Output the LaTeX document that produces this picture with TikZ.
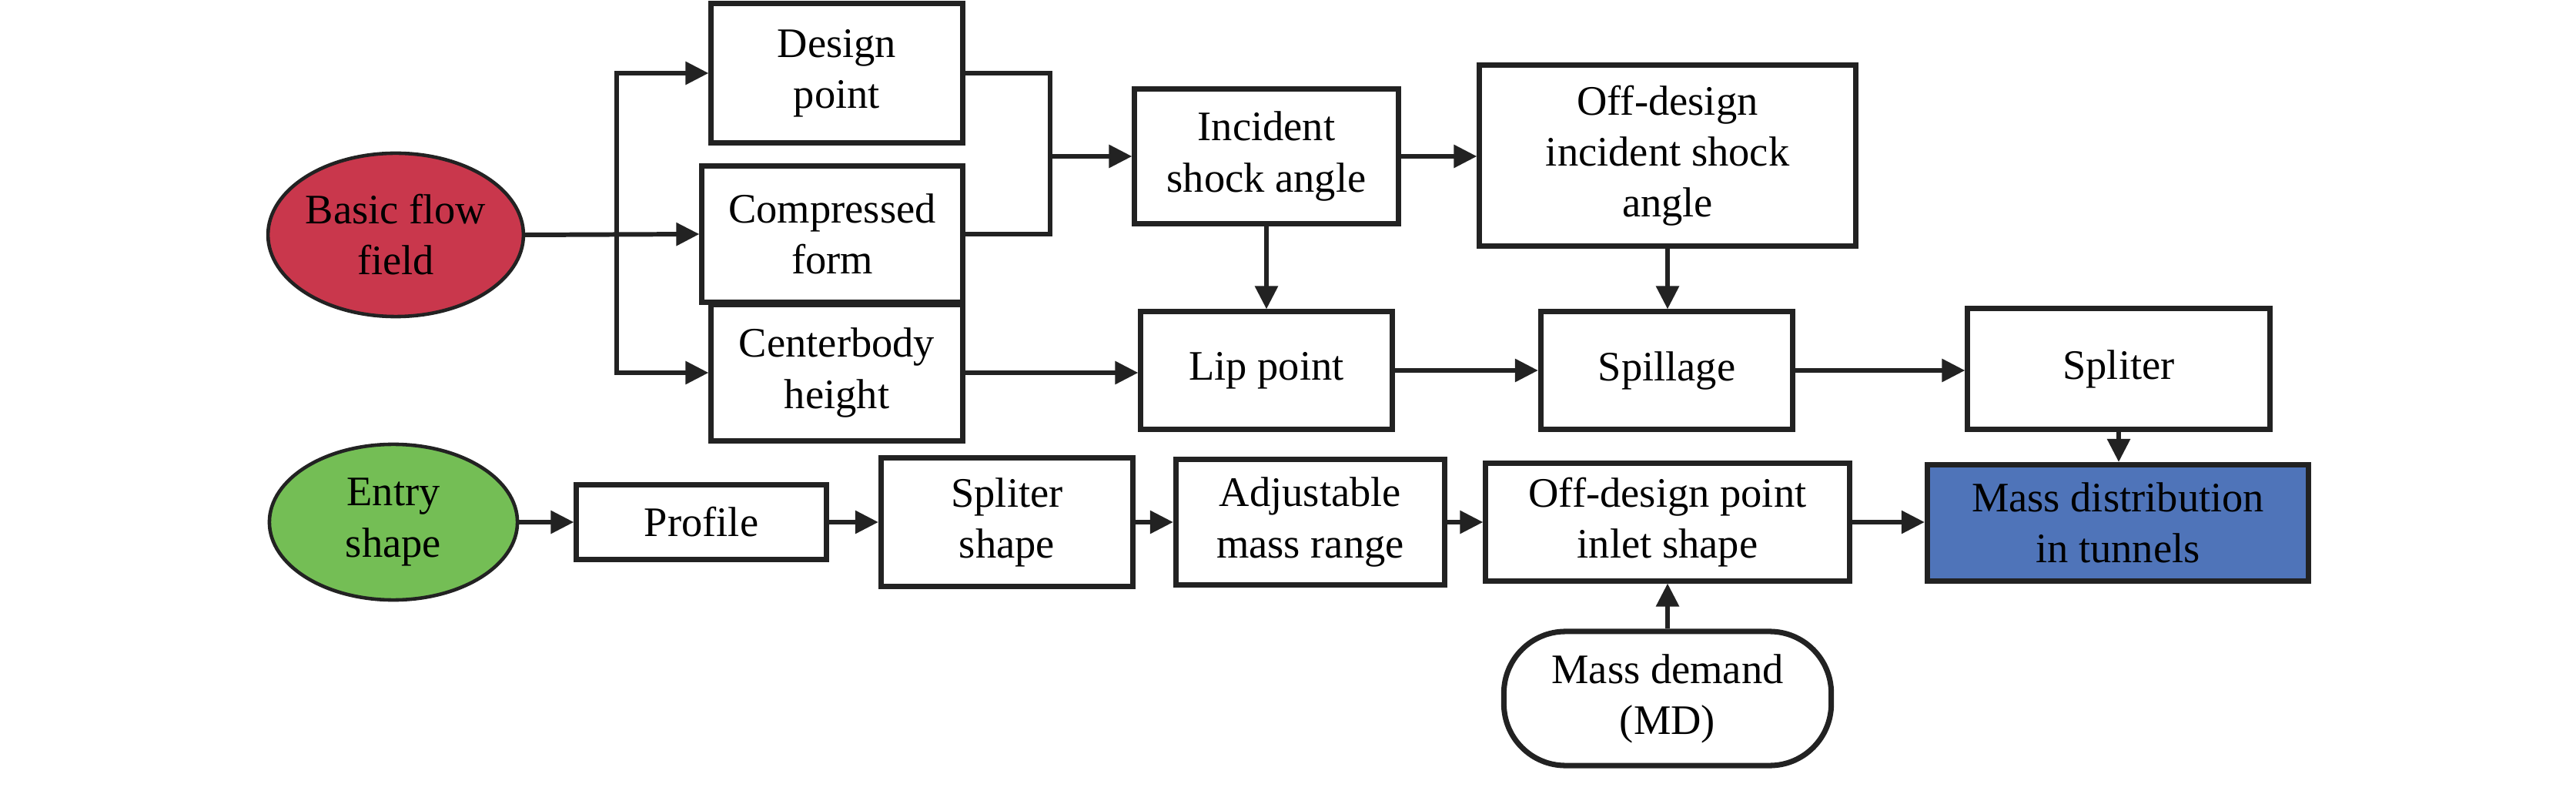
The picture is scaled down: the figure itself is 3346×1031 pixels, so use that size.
\documentclass[tikz,border=0pt]{standalone}
\usepackage{fontspec}
\setmainfont{Liberation Serif}
\newfontfamily\tnr{Liberation Serif}
\usetikzlibrary{arrows.meta,shapes.geometric,calc}
\definecolor{redfill}{HTML}{C9374C}
\definecolor{greenfill}{HTML}{74BE55}
\definecolor{bluefill}{HTML}{4F74B9}
\definecolor{edge}{HTML}{222222}
\tikzset{
  txt/.style={align=center, inner sep=0pt, font=\tnr\fontsize{15.5}{18.8}\selectfont},
  box/.style={txt, draw=edge, line width=2pt, fill=white, rectangle},
  oval/.style={txt, draw=edge, line width=1.3pt, ellipse},
  term/.style={txt, draw=edge, line width=2pt, rectangle, rounded corners=0.8cm},
  arr/.style={draw=edge, line width=1.7pt, -{Triangle[length=0.3cm,width=0.29cm]}},
  ln/.style={draw=edge, line width=1.7pt},
}
\begin{document}
\begin{tikzpicture}[x=0.01cm,y=-0.01cm]
\useasboundingbox (0,0) rectangle (3346,1031);
% nodes
\node[oval, fill=redfill, minimum width=3.22cm, minimum height=2.12cm] (bff) at (514,305) {Basic flow\\field};
\node[oval, fill=greenfill, minimum width=3.22cm, minimum height=2.02cm] (ent) at (511,678) {Entry\\shape};
\node[box, minimum width=3.26cm, minimum height=1.81cm] (dp) at (1087,95) {Design\\point};
\node[box, minimum width=3.38cm, minimum height=1.77cm] (cf) at (1081,304) {Compressed\\form};
\node[box, minimum width=3.26cm, minimum height=1.76cm] (cb) at (1087,484) {Centerbody\\height};
\node[box, minimum width=3.42cm, minimum height=1.74cm] (isa) at (1645,203) {Incident\\shock angle};
\node[box, minimum width=4.88cm, minimum height=2.35cm] (oda) at (2166,202) {Off-design\\incident shock\\angle};
\node[box, minimum width=3.26cm, minimum height=1.52cm] (lip) at (1645,481) {Lip point};
\node[box, minimum width=3.27cm, minimum height=1.52cm] (spl) at (2165,481) {Spillage};
\node[box, minimum width=3.92cm, minimum height=1.57cm] (spt) at (2752,479) {Spliter};
\node[box, minimum width=3.24cm, minimum height=0.97cm] (pro) at (911,678) {Profile};
\node[box, minimum width=3.27cm, minimum height=1.66cm] (ss) at (1308,678) {Spliter\\shape};
\node[box, minimum width=3.49cm, minimum height=1.63cm] (amr) at (1702,678) {Adjustable\\mass range};
\node[box, minimum width=4.72cm, minimum height=1.52cm] (odp) at (2166,678) {Off-design point\\inlet shape};
\node[box, fill=bluefill, minimum width=4.95cm, minimum height=1.51cm] (mdt) at (2751,679) {Mass distribution\\in tunnels};
\node[term, minimum width=4.25cm, minimum height=1.74cm] (md) at (2166,907) {Mass demand\\(MD)};
% junctions
\coordinate (j1) at (801,305);
\coordinate (j2) at (1364,203);
% connectors
\draw[arr] (bff.east) -- (cf.west);
\draw[arr] (j1) |- (dp.west);
\draw[arr] (j1) |- (cb.west);
\draw[ln] (dp.east) -| (j2);
\draw[ln] (cf.east) -| (j2);
\draw[arr] (j2) -- (isa.west);
\draw[arr] (isa.east) -- (isa.east -| oda.west);
\draw[arr] (isa.south) -- (lip.north);
\draw[arr] (oda.south) -- (oda.south |- spl.north);
\draw[arr] (cb.east) -- (cb.east -| lip.west);
\draw[arr] (lip.east) -- (spl.west);
\draw[arr] (spl.east) -- (spl.east -| spt.west);
\draw[arr] (spt.south) -- (spt.south |- mdt.north);
\draw[arr] (ent.east) -- (pro.west);
\draw[arr] (pro.east) -- (ss.west);
\draw[arr] (ss.east) -- (amr.west);
\draw[arr] (amr.east) -- (odp.west);
\draw[arr] (odp.east) -- (odp.east -| mdt.west);
\draw[arr] (md.north) -- (odp.south);
\end{tikzpicture}
\end{document}
